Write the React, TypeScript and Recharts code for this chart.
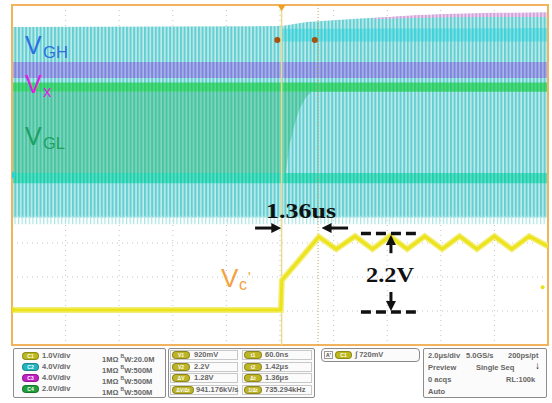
import {
  ComposedChart,
  Area,
  Line,
  XAxis,
  YAxis,
  CartesianGrid,
  ReferenceLine,
  ReferenceArea,
  ReferenceDot,
} from "recharts";

// ─────────────────────────────────────────────
//  Scope capture: V_GH / Vx / V_GL switching + Vc' step
//  x = time (µs, 2.0 µs/div), y = graticule divisions
// ─────────────────────────────────────────────
const T_DOMAIN: [number, number] = [-10, 10];
const DIV_DOMAIN: [number, number] = [0, 10];
const MAJOR_T = [-8, -6, -4, -2, 0, 2, 4, 6, 8];
const MAJOR_DIV = [1, 2, 3, 4, 5, 6, 7, 8, 9];
const MINOR_T = Array.from({ length: 49 }, (_, i) => -9.6 + i * 0.4);
const MINOR_DIV = Array.from({ length: 49 }, (_, i) => 0.2 + i * 0.2);

// C2 switching envelope (light cyan)
const C2_T = [-10, 0.06, 1, 3, 6, 10];
const C2_TOP = [9.35, 9.38, 9.5, 9.6, 9.72, 9.78];
const C2_BOTTOM = [3.75, 3.75, 3.75, 3.75, 3.75, 3.75];

// brighter cyan band right of trigger
const C2_HI_T = [0.06, 10];
const C2_HI_LO = [8.93, 8.93];
const C2_HI_TOP = [9.3, 9.32];

// C3 tips on the top edge
const C3_TIP_T = [3.5, 5, 6.5, 8, 10];
const C3_TIP_LO = [9.58, 9.62, 9.64, 9.65, 9.65];
const C3_TIP_HI = [9.62, 9.7, 9.74, 9.77, 9.78];

// Vx level band (purple)
const VX_T = [-10, 10];
const VX_LO = [7.85, 7.85];
const VX_HI = [8.32, 8.32];

// V_GL level line (green)
const VGL_LINE_T = [-10, 10];
const VGL_LINE_LO = [7.45, 7.45];
const VGL_LINE_HI = [7.72, 7.72];

// V_GL fill before the transition
const VGL_FILL_T = [-10, 0.06, 0.22, 0.34, 0.52, 0.71, 0.97, 1.16];
const VGL_FILL_LO = [5.06, 5.06, 5.06, 5.82, 6.41, 6.91, 7.29, 7.45];
const VGL_FILL_HI = [7.45, 7.45, 7.45, 7.45, 7.45, 7.45, 7.45, 7.45];

// lower aqua line
const LOW_T = [-10, 10];
const LOW_LO = [4.76, 4.76];
const LOW_HI = [5.06, 5.06];

// ragged fringe under the envelope
const FRINGE_T = [-10, 10];
const FRINGE_LO = [3.55, 3.55];
const FRINGE_HI = [3.8, 3.8];

// C1 (Vc') trace
const C1_T = [-10, 0.03, 0.07, 1.45, 2.1, 2.8, 3.45, 4.1, 4.75, 5.4, 6.05, 6.7, 7.35, 8.0, 8.65, 9.3, 10];
const C1_V = [1.03, 1.03, 1.9, 3.18, 2.82, 3.2, 2.82, 3.2, 2.82, 3.2, 2.82, 3.2, 2.82, 3.2, 2.82, 3.2, 2.9];

const CURSOR_T = [0.06, 1.42];

const band = (ts: number[], lo: number[], hi: number[]) =>
  ts.map((t, i) => ({ t, v: [lo[i], hi[i]] }));

const CH_ROWS = [
  { ch: "C1", color: "#bdb81c", scale: "1.0V/div", bw: "20.0M" },
  { ch: "C2", color: "#22b5c0", scale: "4.0V/div", bw: "500M" },
  { ch: "C3", color: "#c21fc2", scale: "4.0V/div", bw: "500M" },
  { ch: "C4", color: "#1f9e3a", scale: "2.0V/div", bw: "500M" },
];
const MEAS_LEFT = [["V1", "920mV"], ["V2", "2.2V"], ["ΔV", "1.28V"], ["ΔV/Δt", "941.176kV/s"]];
const MEAS_RIGHT = [["t1", "60.0ns"], ["t2", "1.42μs"], ["Δt", "1.36μs"], ["1/Δt", "735.294kHz"]];

const PANEL_FONT = '"Liberation Sans", Arial, sans-serif';
const SERIF = '"Liberation Serif", "Times New Roman", serif';
const LABEL_FONT = '"Liberation Sans", Arial, sans-serif';

function Badge({ x, y, w, color, label }: { x: number; y: number; w: number; color: string; label: string }) {
  return (
    <div
      style={{
        position: "absolute",
        left: x,
        top: y,
        width: w,
        height: 8,
        borderRadius: 4,
        background: color,
        border: "1px solid rgba(0,0,0,0.25)",
        boxSizing: "border-box",
        color: "#fff",
        fontSize: 5,
        lineHeight: "6px",
        textAlign: "center",
        fontWeight: 700,
      }}
    >
      {label}
    </div>
  );
}

const txt = (x: number, y: number): React.CSSProperties => ({
  position: "absolute",
  left: x,
  top: y,
  fontSize: 7.5,
  lineHeight: "8px",
  fontWeight: 700,
  color: "#666",
  whiteSpace: "nowrap",
});

const boxStyle = (x: number, y: number, w: number, h: number): React.CSSProperties => ({
  position: "absolute",
  left: x,
  top: y,
  width: w,
  height: h,
  border: "1.5px solid #8c8c8c",
  borderRadius: 2,
  boxSizing: "border-box",
  background: "#fbfbfb",
});

function Panel() {
  return (
    <div style={{ position: "absolute", left: 0, top: 0, fontFamily: PANEL_FONT }}>
      <div style={boxStyle(13, 348, 153, 50)} />
      {CH_ROWS.map((r, i) => (
        <div key={r.ch}>
          <Badge x={22} y={352 + i * 11} w={17} color={r.color} label={r.ch} />
          <div style={txt(42, 352 + i * 11)}>{r.scale}</div>
          <div style={txt(102, 352 + i * 11)}>
            1MΩ <span style={{ fontSize: 5, verticalAlign: "super" }}>B</span>W:{r.bw}
          </div>
        </div>
      ))}

      <div style={boxStyle(168, 348, 147, 50)} />
      {MEAS_LEFT.map(([k, v], i) => (
        <div key={k}>
          <div style={{ position: "absolute", left: 170, top: 350 + i * 11.5, width: 68, height: 10, border: "1px solid #c8c8c8", boxSizing: "border-box" }} />
          <Badge x={172} y={351 + i * 11.5} w={k.length > 3 ? 22 : 18} color="#bdb526" label={k} />
          <div style={txt(k.length > 3 ? 196 : 194, 351 + i * 11.5)}>{v}</div>
        </div>
      ))}
      {MEAS_RIGHT.map(([k, v], i) => (
        <div key={k}>
          <div style={{ position: "absolute", left: 242, top: 350 + i * 11.5, width: 70, height: 10, border: "1px solid #c8c8c8", boxSizing: "border-box" }} />
          <Badge x={244} y={351 + i * 11.5} w={18} color="#bdb526" label={k} />
          <div style={txt(265, 351 + i * 11.5)}>{v}</div>
        </div>
      ))}

      <div style={{ ...boxStyle(321, 348, 99, 14), borderRadius: 4 }} />
      <div style={{ position: "absolute", left: 324, top: 351, width: 9, height: 8, border: "1px solid #999", boxSizing: "border-box", fontSize: 5, lineHeight: "6px", textAlign: "center", fontWeight: 700, color: "#444" }}>A'</div>
      <Badge x={335} y={351} w={17} color="#bdb81c" label="C1" />
      <div style={txt(355, 351)}>∫ 720mV</div>

      <div style={boxStyle(423, 348, 124, 50)} />
      <div style={txt(428, 352)}>2.0μs/div</div>
      <div style={txt(466, 352)}>5.0GS/s</div>
      <div style={txt(508, 352)}>200ps/pt</div>
      <div style={txt(428, 364)}>Preview</div>
      <div style={txt(476, 364)}>Single Seq</div>
      <div style={{ ...txt(535, 362), color: "#111", fontSize: 10 }}>↓</div>
      <div style={txt(428, 376)}>0 acqs</div>
      <div style={txt(506, 376)}>RL:100k</div>
      <div style={txt(428, 388)}>Auto</div>
    </div>
  );
}

// trace labels and annotation text, drawn over the waveforms
function Labels() {
  return (
    <svg width={552} height={350} style={{ position: "absolute", left: 0, top: 0, pointerEvents: "none" }}>
      <text x={266} y={218} fontFamily={SERIF} fontWeight={700} fontSize={22} fill="#111" textLength={70} lengthAdjust="spacingAndGlyphs">1.36us</text>
      <text x={366} y={282} fontFamily={SERIF} fontWeight={700} fontSize={22} fill="#111" textLength={48} lengthAdjust="spacingAndGlyphs">2.2V</text>
      <text fontFamily={LABEL_FONT} fill="#2b6fe0">
        <tspan x={25} y={54} fontSize={25}>V</tspan>
        <tspan x={43} y={58} fontSize={16} textLength={25} lengthAdjust="spacingAndGlyphs">GH</tspan>
      </text>
      <text fontFamily={LABEL_FONT} fill="#e31ce3">
        <tspan x={25} y={93} fontSize={25}>V</tspan>
        <tspan x={43} y={97} fontSize={17}>x</tspan>
      </text>
      <text fontFamily={LABEL_FONT} fill="#1da062">
        <tspan x={25} y={145} fontSize={25}>V</tspan>
        <tspan x={43} y={149} fontSize={16} textLength={22} lengthAdjust="spacingAndGlyphs">GL</tspan>
      </text>
      <text fontFamily={LABEL_FONT} fill="#f3a23e">
        <tspan x={221} y={287} fontSize={26}>V</tspan>
        <tspan x={239} y={290} fontSize={16}>c</tspan>
        <tspan x={248} y={282} fontSize={14}>'</tspan>
      </text>
    </svg>
  );
}

const triDown = (props: any) => (
  <path d={`M${props.cx - 4},${props.cy} L${props.cx + 4},${props.cy} L${props.cx},${props.cy + 6} Z`} fill="#f0a020" />
);
const triRight = (color: string) => (props: any) => (
  <path d={`M${props.cx},${props.cy - 4} L${props.cx + 4},${props.cy} L${props.cx},${props.cy + 4} Z`} fill={color} />
);

export default function App() {
  const areaProps = {
    type: "linear" as const,
    dataKey: "v",
    stroke: "none",
    fillOpacity: 1,
    isAnimationActive: false,
    dot: false,
    activeDot: false,
  };
  const c1 = C1_T.map((t, i) => ({ t, v: C1_V[i] }));

  return (
    <div style={{ position: "absolute", left: 0, top: 0, width: 552, height: 403, background: "#fff", overflow: "hidden" }}>
      <ComposedChart width={552} height={350} margin={{ top: 5, right: 4, bottom: 5, left: 12 }}>
        <defs>
          <pattern id="cyanStripe" width="3.6" height="10" patternUnits="userSpaceOnUse">
            <rect width="3.6" height="10" fill="#c2ebeb" />
            <rect width="2" height="10" fill="#62cfd3" />
          </pattern>
          <pattern id="cyanBright" width="3.6" height="10" patternUnits="userSpaceOnUse">
            <rect width="3.6" height="10" fill="#8ee0e3" />
            <rect width="2.2" height="10" fill="#3ed3da" />
          </pattern>
          <pattern id="pinkStripe" width="3.6" height="10" patternUnits="userSpaceOnUse">
            <rect width="3.6" height="10" fill="#ecd6ee" />
            <rect width="2" height="10" fill="#d6a0dc" />
          </pattern>
          <pattern id="purpleStripe" width="3.6" height="10" patternUnits="userSpaceOnUse">
            <rect width="3.6" height="10" fill="#a9b4e8" />
            <rect width="2" height="10" fill="#7d86dc" />
          </pattern>
          <pattern id="greenLine" width="3.6" height="10" patternUnits="userSpaceOnUse">
            <rect width="3.6" height="10" fill="#52d68a" />
            <rect width="2" height="10" fill="#2ccf62" />
          </pattern>
          <pattern id="vglStripe" width="3.6" height="10" patternUnits="userSpaceOnUse">
            <rect width="3.6" height="10" fill="#7fd6bf" />
            <rect width="2" height="10" fill="#4bc4a2" />
          </pattern>
          <pattern id="aquaLine" width="3.6" height="10" patternUnits="userSpaceOnUse">
            <rect width="3.6" height="10" fill="#5edcc4" />
            <rect width="2" height="10" fill="#1fd0ae" />
          </pattern>
          <pattern id="fringe" width="3.6" height="10" patternUnits="userSpaceOnUse">
            <rect width="1.2" height="10" fill="#a8e4e4" />
          </pattern>
          <marker id="arrowHead" viewBox="0 0 10 10" refX="6" refY="5" markerWidth="10" markerHeight="10" markerUnits="userSpaceOnUse" orient="auto">
            <path d="M0,0 L10,5 L0,10 z" fill="#111" />
          </marker>
        </defs>

        <XAxis dataKey="t" type="number" domain={T_DOMAIN} ticks={MAJOR_T} hide allowDataOverflow />
        <YAxis type="number" domain={DIV_DOMAIN} ticks={MAJOR_DIV} hide allowDataOverflow />
        <XAxis xAxisId="tTop" orientation="top" type="number" domain={T_DOMAIN} ticks={MINOR_T} mirror height={0} tick={false} axisLine={false} tickLine={{ stroke: "#b5ab94" }} tickSize={4} allowDataOverflow />
        <XAxis xAxisId="tBot" orientation="bottom" type="number" domain={T_DOMAIN} ticks={MINOR_T} mirror height={0} tick={false} axisLine={false} tickLine={{ stroke: "#b5ab94" }} tickSize={4} allowDataOverflow />
        <YAxis yAxisId="dLeft" orientation="left" type="number" domain={DIV_DOMAIN} ticks={MINOR_DIV} mirror width={0} tick={false} axisLine={false} tickLine={{ stroke: "#b5ab94" }} tickSize={4} allowDataOverflow />
        <YAxis yAxisId="dRight" orientation="right" type="number" domain={DIV_DOMAIN} ticks={MINOR_DIV} mirror width={0} tick={false} axisLine={false} tickLine={{ stroke: "#b5ab94" }} tickSize={4} allowDataOverflow />

        <CartesianGrid stroke="#c4c4c4" strokeDasharray="1 4" />

        <Area {...areaProps} data={band(C2_T, C2_BOTTOM, C2_TOP)} fill="url(#cyanStripe)" />
        <Area {...areaProps} data={band(FRINGE_T, FRINGE_LO, FRINGE_HI)} fill="url(#fringe)" />
        <Area {...areaProps} data={band(C3_TIP_T, C3_TIP_LO, C3_TIP_HI)} fill="url(#pinkStripe)" />
        <Area {...areaProps} data={band(C2_HI_T, C2_HI_LO, C2_HI_TOP)} fill="url(#cyanBright)" />
        <Area {...areaProps} data={band(VX_T, VX_LO, VX_HI)} fill="url(#purpleStripe)" />
        <Area {...areaProps} data={band(VGL_FILL_T, VGL_FILL_LO, VGL_FILL_HI)} fill="url(#vglStripe)" />
        <Area {...areaProps} data={band(VGL_LINE_T, VGL_LINE_LO, VGL_LINE_HI)} fill="url(#greenLine)" />
        <Area {...areaProps} data={band(LOW_T, LOW_LO, LOW_HI)} fill="url(#aquaLine)" />

        {CURSOR_T.map((t, i) => (
          <ReferenceLine
            key={t}
            x={t}
            stroke={i === 0 ? "#e9dc8c" : "#b3a65a"}
            strokeWidth={i === 0 ? 1.5 : 1}
            strokeDasharray={i === 0 ? undefined : "1 2"}
          />
        ))}

        <Line data={c1} dataKey="v" type="linear" stroke="#f3ee7a" strokeWidth={6} dot={false} activeDot={false} isAnimationActive={false} />
        <Line data={c1} dataKey="v" type="linear" stroke="#ece31c" strokeWidth={3} dot={false} activeDot={false} isAnimationActive={false} />

        <ReferenceArea x1={T_DOMAIN[0]} x2={T_DOMAIN[1]} y1={DIV_DOMAIN[0]} y2={DIV_DOMAIN[1]} fill="none" stroke="#f2b35f" strokeWidth={2} ifOverflow="visible" />

        <ReferenceDot x={0.06} y={10} r={4} shape={triDown} ifOverflow="visible" />
        <ReferenceDot x={-0.1} y={8.97} r={3} fill="#a5520f" stroke="none" />
        <ReferenceDot x={1.3} y={8.97} r={3} fill="#a5520f" stroke="none" />
        <ReferenceDot x={-10} y={5.0} r={4} shape={triRight("#2ad3d6")} ifOverflow="visible" />
        <ReferenceDot x={-10} y={1.03} r={4} shape={triRight("#ebe118")} ifOverflow="visible" />
        <ReferenceDot x={9.8} y={1.7} r={2} fill="#ebe118" stroke="none" />

        {/* 1.36us arrows */}
        <ReferenceLine segment={[{ x: -0.93, y: 3.44 }, { x: -0.1, y: 3.44 }]} stroke="#111" strokeWidth={3} markerEnd="url(#arrowHead)" ifOverflow="visible" />
        <ReferenceLine segment={[{ x: 2.54, y: 3.44 }, { x: 1.7, y: 3.44 }]} stroke="#111" strokeWidth={3} markerEnd="url(#arrowHead)" ifOverflow="visible" />
        {/* 2.2V markers */}
        <ReferenceLine segment={[{ x: 3.02, y: 3.28 }, { x: 5.07, y: 3.28 }]} stroke="#111" strokeWidth={3.5} strokeDasharray="10 5" ifOverflow="visible" />
        <ReferenceLine segment={[{ x: 3.02, y: 0.97 }, { x: 5.07, y: 0.97 }]} stroke="#111" strokeWidth={3.5} strokeDasharray="10 5" ifOverflow="visible" />
        <ReferenceLine segment={[{ x: 4.14, y: 2.7 }, { x: 4.14, y: 3.12 }]} stroke="#111" strokeWidth={3} markerEnd="url(#arrowHead)" ifOverflow="visible" />
        <ReferenceLine segment={[{ x: 4.14, y: 1.56 }, { x: 4.14, y: 1.12 }]} stroke="#111" strokeWidth={3} markerEnd="url(#arrowHead)" ifOverflow="visible" />
      </ComposedChart>
      <Labels />
      <Panel />
    </div>
  );
}
